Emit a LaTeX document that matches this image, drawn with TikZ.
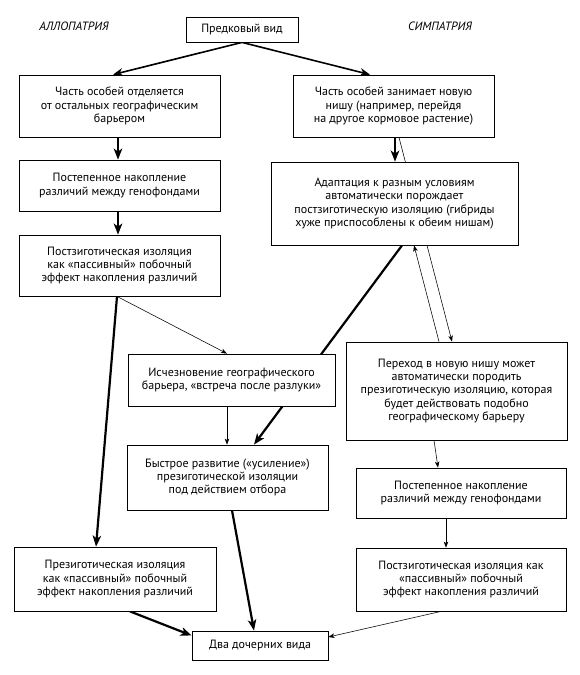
\documentclass[tikz,border=0pt]{standalone}
\usepackage{fontspec}
\setmainfont{PT Sans}
\usetikzlibrary{arrows.meta,backgrounds}
\begin{document}
\begin{tikzpicture}[x=1pt,y=-1pt,
  box/.style={draw, line width=0.8pt, fill=white, align=center, inner sep=0pt,
    font=\fontsize{12}{13.4}\selectfont},
  head/.style={font=\fontsize{12}{13}\selectfont\itshape},
  bigarr/.style={line width=2.2pt, -{Stealth[length=11pt,width=8.5pt,inset=3pt]}},
  midarr/.style={line width=1.6pt, -{Stealth[length=10pt,width=8pt,inset=3pt]}},
  bigline/.style={line width=2.2pt},
  thinarr/.style={line width=0.55pt, -{Stealth[length=6pt,width=4.5pt,inset=1.5pt]}}]
\useasboundingbox (0,0) rectangle (580,675);

\node[head] (allo) at (74,26) {АЛЛОПАТРИЯ};
\node[head] (sym) at (440,26) {СИМПАТРИЯ};

\node[box, minimum width=112pt, minimum height=25pt] (anc) at (242,29.5) {Предковый вид};
\node[box, minimum width=201pt, minimum height=62pt] (l1) at (119.5,106)
  {Часть особей отделяется\\от остальных географическим\\барьером};
\node[box, minimum width=201pt, minimum height=62pt] (r1) at (393.5,106)
  {Часть особей занимает новую\\нишу (например, перейдя\\на другое кормовое растение)};
\node[box, minimum width=201pt, minimum height=51pt] (l2) at (119.5,185.5)
  {Постепенное накопление\\различий между генофондами};
\node[box, minimum width=201pt, minimum height=61pt] (l3) at (119.5,265.5)
  {Постзиготическая изоляция\\как «пассивный» побочный\\эффект накопления различий};
\node[box, minimum width=247pt, minimum height=83pt] (adapt) at (394.5,203.5)
  {Адаптация к разным условиям\\автоматически порождает\\постзиготическую изоляцию (гибриды\\хуже приспособлены к обеим нишам)};
\node[box, minimum width=207pt, minimum height=52pt] (disap) at (231.5,380)
  {Исчезновение географического\\барьера, «встреча после разлуки»};
\node[box, minimum width=221pt, minimum height=98pt] (niche) at (456.5,391)
  {Переход в новую нишу может\\автоматически породить\\презиготическую изоляцию, которая\\будет действовать подобно\\географическому барьеру};
\node[box, minimum width=201pt, minimum height=65pt] (fast) at (227.5,477.5)
  {Быстрое развитие («усиление»)\\презиготической изоляции\\под действием отбора};
\node[box, minimum width=210pt, minimum height=50pt] (r5) at (461,493)
  {Постепенное накопление\\различий между генофондами};
\node[box, minimum width=202pt, minimum height=64pt] (l4) at (115,579)
  {Презиготическая изоляция\\как «пассивный» побочный\\эффект накопления различий};
\node[box, minimum width=210pt, minimum height=63pt] (r6) at (461,579.5)
  {Постзиготическая изоляция как\\«пассивный» побочный\\эффект накопления различий};
\node[box, minimum width=136pt, minimum height=29pt] (two) at (260,645.5) {Два дочерних вида};

\begin{pgfonlayer}{background}
\fill[white] (0,0) rectangle (580,675);
\draw[midarr] (anc.south) -- ([xshift=-6.5pt]l1.north);
\draw[midarr] (anc.south) -- ([xshift=-23.5pt]r1.north);
\draw[bigarr] ([xshift=-1.5pt]l1.south) -- ([xshift=-1.5pt]l2.north);
\draw[bigarr] ([xshift=-1.5pt]l2.south) -- ([xshift=-1.5pt]l3.north);
\draw[bigarr] ([xshift=1.5pt]r1.south) -- ([xshift=0.5pt]adapt.north);
\draw[thinarr] ([xshift=5.5pt]r1.south) -- ([xshift=-4.5pt]niche.north);
\draw[thinarr] ([xshift=-17.5pt]niche.north) -- ([xshift=19.5pt]adapt.south);
\draw[bigarr] ([xshift=7.5pt]adapt.south) -- ([xshift=26.5pt]fast.north);
\draw[thinarr] ([xshift=-2.5pt]l3.south) -- ([xshift=-4.5pt]disap.north);
\draw[bigarr] ([xshift=-2.5pt]l3.south) -- ([xshift=-19pt]l4.north);
\draw[thinarr] ([xshift=-4.5pt]disap.south) -- ([xshift=-0.5pt]fast.north);
\draw[thinarr] ([xshift=-22.5pt]niche.south) -- ([xshift=-23pt]r5.north);
\draw[thinarr] ([xshift=-15pt]r5.south) -- ([xshift=-15pt]r6.north);
\draw[bigarr] ([xshift=4.5pt]fast.south) -- ([xshift=-6pt]two.north);
\draw[bigarr] ([xshift=15pt]l4.south) -- ([yshift=10pt]two.west);
\draw[thinarr] ([xshift=-20pt]r6.south) -- ([yshift=8.5pt]two.east);
\end{pgfonlayer}
\end{tikzpicture}
\end{document}
